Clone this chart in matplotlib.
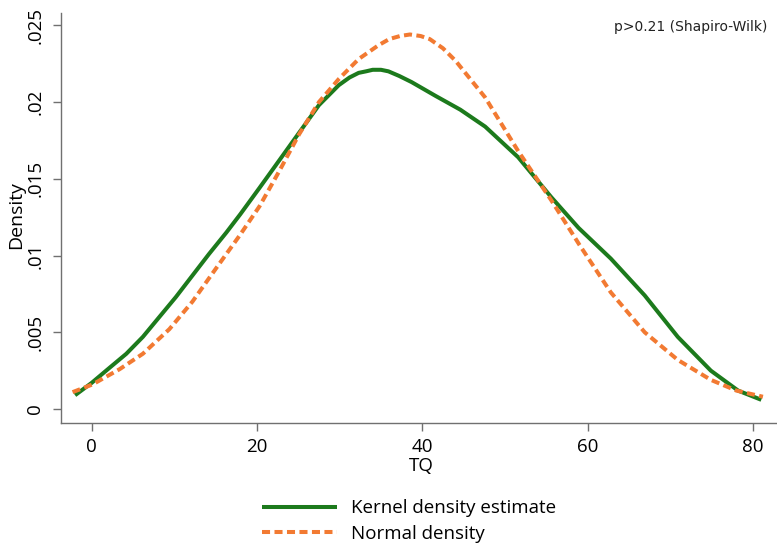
import matplotlib
matplotlib.use("Agg")
import matplotlib.pyplot as plt

# Kernel density estimate
kde_x = [-2.0, 0.0, 2.2, 4.2, 6.2, 8.2, 10.2, 12.2, 14.2, 16.3, 18.0, 20.3, 22.7,
         25.1, 27.5, 29.9, 31.2, 32.3, 33.2, 34.0, 35.0, 35.9, 37.2, 38.7, 41.6,
         44.6, 47.6, 51.6, 55.6, 58.9, 62.8, 66.9, 70.9, 74.9, 78.2, 81.0]
kde_y = [0.0009, 0.0017, 0.0027, 0.0036, 0.0047, 0.0060, 0.0073, 0.0087, 0.0101,
         0.0115, 0.0127, 0.0144, 0.0162, 0.0180, 0.0198, 0.0211, 0.0216, 0.0219,
         0.0220, 0.0221, 0.0221, 0.0220, 0.0217, 0.0213, 0.0204, 0.0195, 0.0184,
         0.0164, 0.0138, 0.0118, 0.0098, 0.0074, 0.0047, 0.0025, 0.0012, 0.0006]

# Normal density
norm_x = [-2.3, 0.1, 3.4, 6.2, 9.4, 12.2, 15.1, 17.9, 20.3, 22.7, 25.1, 27.5, 29.9,
          32.3, 34.7, 36.0, 37.3, 38.5, 39.8, 40.9, 42.5, 44.0, 47.6, 51.6, 55.6,
          59.0, 62.8, 66.9, 70.9, 74.9, 78.0, 81.2]
norm_y = [0.0011, 0.0016, 0.0026, 0.0036, 0.0052, 0.0070, 0.0092, 0.0113, 0.0132,
          0.0155, 0.0179, 0.0200, 0.0215, 0.0228, 0.0237, 0.0241, 0.0243, 0.0244,
          0.0243, 0.0241, 0.0235, 0.0227, 0.0203, 0.0168, 0.0136, 0.0107, 0.0076,
          0.0050, 0.0032, 0.0019, 0.0012, 0.0008]

xticks = [0, 20, 40, 60, 80]
yticks = [0, 0.005, 0.01, 0.015, 0.02, 0.025]
ytick_labels = ["0", ".005", ".01", ".015", ".02", ".025"]

plt.rcParams['font.family'] = ['Open Sans', 'DejaVu Sans']

W, H = 777, 551
fig = plt.figure(figsize=(W / 100, H / 100), dpi=100)
ax = fig.add_axes([61 / W, 1 - 423 / H, 1 - 61 / W, (423 - 13) / H])

green = '#1c7a1c'
orange = '#f27a32'
l1, = ax.plot(kde_x, kde_y, color=green, lw=2.9, solid_capstyle='butt',
              solid_joinstyle='round', label='Kernel density estimate')
l2, = ax.plot(norm_x, norm_y, color=orange, lw=2.9, dashes=(2.0, 1.1),
              label='Normal density')

ax.set_xlim(-3.7, 82.9)
ax.set_ylim(-0.00091, 0.0258)

for s in ['top', 'right']:
    ax.spines[s].set_visible(False)
for s in ['left', 'bottom']:
    ax.spines[s].set_color('#707070')
    ax.spines[s].set_linewidth(1.0)

ax.set_xticks(xticks)
ax.set_xticklabels([str(v) for v in xticks], fontsize=13.5)
ax.set_yticks(yticks)
ax.set_yticklabels(ytick_labels, fontsize=13.5, rotation=90, va='center')
ax.tick_params(axis='both', direction='out', length=6, width=1.0, color='#707070')
ax.tick_params(axis='x', pad=5)
ax.tick_params(axis='y', pad=6)

fig.text(421 / W, 1 - 466 / H, 'TQ', fontsize=13.5, ha='center', va='center')
fig.text(16 / W, 1 - 215 / H, 'Density', fontsize=14, ha='center', va='center',
         rotation=90)

fig.text(0.987, 0.951, 'p>0.21 (Shapiro-Wilk)', fontsize=10, ha='right', va='center',
         family='DejaVu Sans', color='#222222')

leg = fig.legend(handles=[l1, l2], loc='center left',
                 bbox_to_anchor=(262 / W, 1 - 521 / H),
                 frameon=False, fontsize=13.5, handlelength=4.0, handletextpad=0.75,
                 labelspacing=0.42, borderaxespad=0, borderpad=0)

fig.savefig('out.png', dpi=100, facecolor='white')
